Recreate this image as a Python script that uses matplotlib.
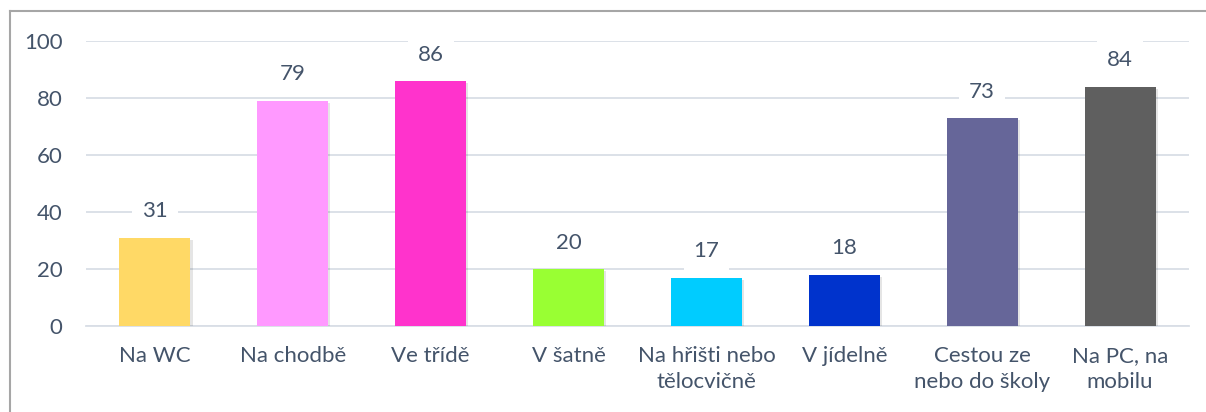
import matplotlib
matplotlib.use("Agg")
import matplotlib.pyplot as plt
import matplotlib.patheffects as pe
from matplotlib.lines import Line2D

categories = ["Na WC", "Na chodbě", "Ve třídě", "V šatně", "Na hřišti nebo\ntělocvičně",
              "V jídelně", "Cestou ze\nnebo do školy", "Na PC, na\nmobilu"]
values = [31, 79, 86, 20, 17, 18, 73, 84]
colors = ["#FFD966", "#FF99FF", "#FF33CC", "#99FF33", "#00CCFF", "#0033CC", "#666699", "#5F5F5F"]
yticks = [0, 20, 40, 60, 80, 100]

W, H = 1206, 412
fig = plt.figure(figsize=(W / 100, H / 100), dpi=100)
plt.rcParams['font.family'] = ['Lato', 'DejaVu Sans']
txt = "#44546A"
fs = 16

ax = fig.add_axes([86 / W, 1 - 326 / H, (1189 - 86) / W, (326 - 41) / H])
x = list(range(len(categories)))
bars = ax.bar(x, values, width=0.515, color=colors, zorder=3)
for b in bars:
    b.set_path_effects([pe.SimplePatchShadow(offset=(1.5, -1.5), shadow_rgbFace="#000000", alpha=0.1), pe.Normal()])

ax.set_xlim(-0.5, len(categories) - 0.5)
ax.set_ylim(0, 100)
ax.set_yticks(yticks)
ax.set_xticks(x)
ax.set_xticklabels(categories, fontsize=fs, color=txt, linespacing=1.38)
ax.tick_params(axis='y', length=0, pad=17, labelsize=fs, labelcolor=txt)
ax.tick_params(axis='x', length=0, pad=14.5)
ax.grid(axis='y', color="#D9DEE6", linewidth=1.3, zorder=0)
for s in ["top", "right", "left"]:
    ax.spines[s].set_visible(False)
ax.spines["bottom"].set_color("#D9DEE6")
ax.spines["bottom"].set_linewidth(1.3)

for xi, v in zip(x, values):
    ax.annotate(str(v), (xi, v), xytext=(0, 19), textcoords="offset points",
                ha="center", va="center", fontsize=fs, color=txt, zorder=4,
                bbox=dict(boxstyle="square,pad=0.45", fc="white", ec="none"),
                annotation_clip=False)

fig.add_artist(Line2D([9.5 / W, 1.0], [1 - 11 / H, 1 - 11 / H], color="#A6A6A6", lw=1.5))
fig.add_artist(Line2D([9.5 / W, 9.5 / W], [1 - 11 / H, 0], color="#A6A6A6", lw=1.5))

fig.savefig("out.png", dpi=100)
